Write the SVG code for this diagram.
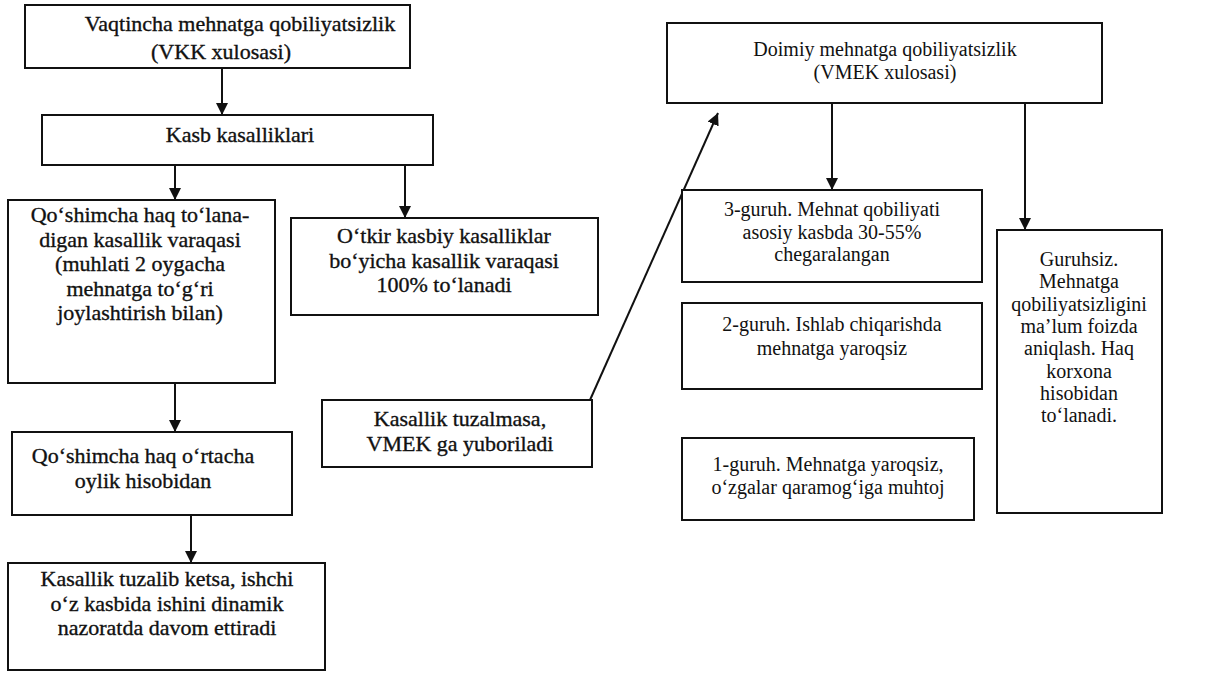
<svg xmlns="http://www.w3.org/2000/svg" width="1220" height="680" viewBox="0 0 1220 680">
<style>
.box{fill:#fff;stroke:#111;stroke-width:2}
.t{font-family:"Liberation Serif","Times New Roman",serif;fill:#111;text-anchor:middle}
.l{font-size:22px;stroke:#111;stroke-width:0.35}
.r{font-size:20px}
.c{stroke:#111;stroke-width:2;fill:none}
</style>
<defs>
<marker id="ah" viewBox="0 0 10 10" refX="10" refY="5" markerWidth="6" markerHeight="6" orient="auto" markerUnits="strokeWidth">
<path d="M0,0 L10,5 L0,10 z" fill="#111"/>
</marker>
</defs>
<rect width="1220" height="680" fill="#fff"/>
<g id="connectors">
<line class="c" x1="222" y1="68" x2="222" y2="115" marker-end="url(#ah)"/>
<line class="c" x1="175" y1="165" x2="175" y2="200" marker-end="url(#ah)"/>
<line class="c" x1="405" y1="165" x2="405" y2="218" marker-end="url(#ah)"/>
<line class="c" x1="175" y1="383" x2="175" y2="432" marker-end="url(#ah)"/>
<line class="c" x1="191" y1="515" x2="191" y2="563" marker-end="url(#ah)"/>
<line class="c" x1="590" y1="400" x2="718" y2="113" marker-end="url(#ah)"/>
<line class="c" x1="832" y1="103" x2="832" y2="190" marker-end="url(#ah)"/>
<line class="c" x1="1025" y1="103" x2="1025" y2="230" marker-end="url(#ah)"/>
</g>
<g id="n1"><rect class="box" x="25" y="5" width="385" height="63"/>
<text class="t l" x="240" y="31">Vaqtincha mehnatga qobiliyatsizlik</text>
<text class="t l" x="221" y="59">(VKK xulosasi)</text></g>
<g id="n2"><rect class="box" x="42" y="115" width="391" height="50"/>
<text class="t l" x="240" y="142">Kasb kasalliklari</text></g>
<g id="n3"><rect class="box" x="8" y="200" width="267" height="183"/>
<text class="t l" x="140" y="222">Qo‘shimcha haq to‘lana-</text>
<text class="t l" x="140" y="246.5">digan kasallik varaqasi</text>
<text class="t l" x="140" y="271">(muhlati 2 oygacha</text>
<text class="t l" x="140" y="295.5">mehnatga to‘g‘ri</text>
<text class="t l" x="140" y="320">joylashtirish bilan)</text></g>
<g id="n4"><rect class="box" x="291" y="218" width="307" height="97"/>
<text class="t l" x="444" y="243">O‘tkir kasbiy kasalliklar</text>
<text class="t l" x="444" y="267.5">bo‘yicha kasallik varaqasi</text>
<text class="t l" x="444" y="292">100% to‘lanadi</text></g>
<g id="n5"><rect class="box" x="322" y="400" width="270" height="67"/>
<text class="t l" x="460" y="426">Kasallik tuzalmasa,</text>
<text class="t l" x="460" y="450.5">VMEK ga yuboriladi</text></g>
<g id="n6"><rect class="box" x="12" y="432" width="280" height="83"/>
<text class="t l" x="143" y="463">Qo‘shimcha haq o‘rtacha</text>
<text class="t l" x="143" y="487.5">oylik hisobidan</text></g>
<g id="n7"><rect class="box" x="8" y="563" width="317" height="107"/>
<text class="t l" x="167" y="586">Kasallik tuzalib ketsa, ishchi</text>
<text class="t l" x="167" y="610.5">o‘z kasbida ishini dinamik</text>
<text class="t l" x="167" y="635">nazoratda davom ettiradi</text></g>
<g id="n8"><rect class="box" x="667" y="23" width="435" height="80"/>
<text class="t r" x="885" y="56">Doimiy mehnatga qobiliyatsizlik</text>
<text class="t r" x="885" y="78.5">(VMEK xulosasi)</text></g>
<g id="n9"><rect class="box" x="682" y="190" width="300" height="92"/>
<text class="t r" x="832" y="216">3-guruh. Mehnat qobiliyati</text>
<text class="t r" x="832" y="238.5">asosiy kasbda 30-55%</text>
<text class="t r" x="832" y="261">chegaralangan</text></g>
<g id="n10"><rect class="box" x="997" y="230" width="165" height="283"/>
<text class="t r" x="1079" y="266">Guruhsiz.</text>
<text class="t r" x="1079" y="288.3">Mehnatga</text>
<text class="t r" x="1079" y="310.6">qobiliyatsizligini</text>
<text class="t r" x="1079" y="332.9">ma’lum foizda</text>
<text class="t r" x="1079" y="355.2">aniqlash. Haq</text>
<text class="t r" x="1079" y="377.5">korxona</text>
<text class="t r" x="1079" y="399.8">hisobidan</text>
<text class="t r" x="1079" y="422.1">to‘lanadi.</text></g>
<g id="n11"><rect class="box" x="682" y="303" width="300" height="86"/>
<text class="t r" x="832" y="331">2-guruh. Ishlab chiqarishda</text>
<text class="t r" x="832" y="355">mehnatga yaroqsiz</text></g>
<g id="n12"><rect class="box" x="682" y="438" width="292" height="82"/>
<text class="t r" x="828" y="471">1-guruh. Mehnatga yaroqsiz,</text>
<text class="t r" x="828" y="494">o‘zgalar qaramog‘iga muhtoj</text></g>
</svg>
